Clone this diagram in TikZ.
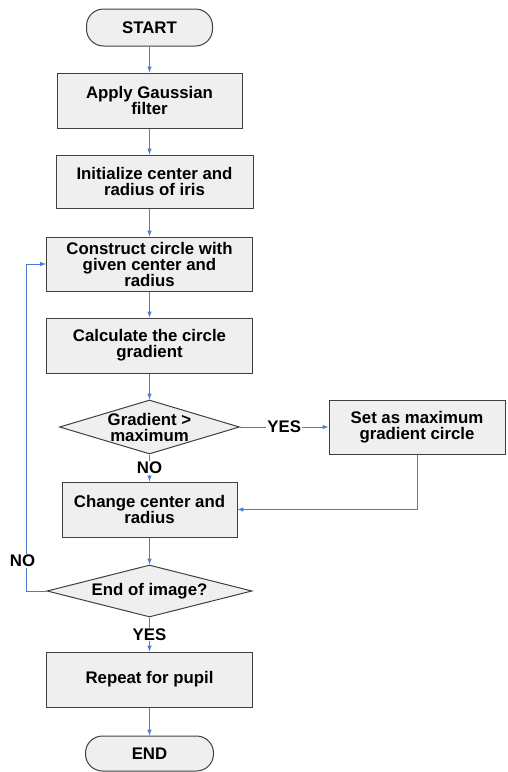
\documentclass[tikz,border=0pt]{standalone}
\usepackage{fontspec}
\setmainfont{Liberation Sans}
\usetikzlibrary{shapes.geometric, arrows}
\definecolor{flowblue}{RGB}{74,124,214}
\definecolor{boxgray}{RGB}{239,239,239}
\tikzstyle{process} = [rectangle, draw=black!75, fill=boxgray, line width=1pt, align=center, inner sep=2pt]
\tikzstyle{startstop} = [process, rounded corners=17pt]
\tikzstyle{decision} = [diamond, draw=black!75, fill=boxgray, line width=1pt, inner sep=0pt]
\tikzstyle{arrow} = [flowblue, line width=1pt, ->, >=latex]
\tikzstyle{lbl} = [fill=white, text=black, inner sep=1pt]

\begin{document}
\begin{tikzpicture}[x=1pt,y=-1pt,font=\fontsize{16.8}{16}\selectfont\bfseries]
\useasboundingbox (0,0) rectangle (507,772);
\node[startstop, minimum width=126pt, minimum height=37pt] (start) at (149.5,27.5) {START};
\node[process, minimum width=185pt, minimum height=55pt] (gauss) at (149.5,100.5) {Apply Gaussian\\filter};
\node[process, minimum width=197pt, minimum height=53pt] (init) at (154.5,181.5) {Initialize center and\\radius of iris};
\node[process, minimum width=206pt, minimum height=54pt] (circ) at (149.5,264) {Construct circle with\\given center and\\radius};
\node[process, minimum width=206pt, minimum height=55pt] (grad) at (149.5,345.5) {Calculate the circle\\gradient};
\node[decision, minimum width=180pt, minimum height=54pt, label={[align=center]center:Gradient >\\maximum}] (gmax) at (149.5,427) {};
\node[process, minimum width=176pt, minimum height=54pt] (setmax) at (417,427) {Set as maximum\\gradient circle};
\node[process, minimum width=175pt, minimum height=55pt] (change) at (149.5,509.5) {Change center and\\radius};
\node[decision, minimum width=205pt, minimum height=52pt, label=center:End of image?] (endimg) at (149.5,591) {};
\node[process, minimum width=206pt, minimum height=55pt] (pupil) at (149.5,679.5) {Repeat for pupil};
\node[startstop, minimum width=128pt, minimum height=35pt] (end) at (149.5,753.5) {END};

\draw[arrow] (start) -- (gauss);
\draw[arrow] (gauss) -- (gauss |- init.north);
\draw[arrow] (init.south -| gauss) -- (circ);
\draw[arrow] (circ) -- (grad);
\draw[arrow] (grad) -- (gmax);
\draw[arrow] (gmax.east) -- (setmax.west) node[midway,lbl]{YES};
\draw[arrow] (gmax.south) -- (change.north) node[midway,lbl]{NO};
\draw[arrow] (setmax.south) |- (change.east);
\draw[arrow] (change) -- (endimg);
\draw[arrow] (endimg.west) -- ++(-20,0) |- (circ.west) node[pos=0.046,lbl,xshift=-4pt]{NO};
\draw[arrow] (endimg.south) -- (pupil.north) node[midway,lbl]{YES};
\draw[arrow] (pupil) -- (end);
\end{tikzpicture}
\end{document}
